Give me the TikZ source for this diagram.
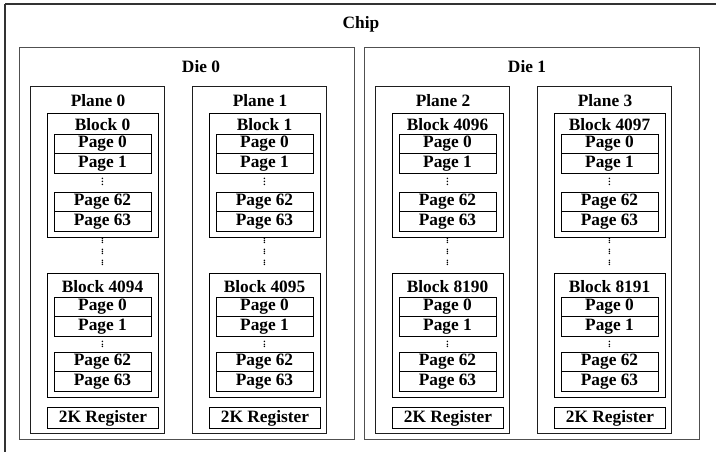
\documentclass[tikz,border=0pt]{standalone}
\usepackage{fontspec}
\setmainfont{Liberation Serif}
\newcommand{\dotcol}[1]{\vbox{\baselineskip#1\lineskiplimit0pt\hbox{.}\hbox{.}\hbox{.}}}
\tikzset{every picture/.style={line width=0.75pt}}
\tikzset{
  pagebox/.style={draw, anchor=north west, minimum width=72.75pt, minimum height=14.625pt, inner sep=0pt, outer sep=0pt},
  blockbox/.style={draw, anchor=north west, minimum width=83.25pt, minimum height=93pt, inner sep=0pt},
  regbox/.style={draw, anchor=north west, minimum width=83.25pt, minimum height=15.75pt, inner sep=0pt},
  planebox/.style={draw={rgb, 255:red, 30; green, 30; blue, 30}, anchor=north west, minimum width=100.5pt, minimum height=260.25pt, inner sep=0pt},
  diebox/.style={draw={rgb, 255:red, 80; green, 80; blue, 80}, anchor=north west, minimum width=251.25pt, minimum height=294pt, inner sep=0pt},
  chipline/.style={draw={rgb, 255:red, 50; green, 50; blue, 50}, line width=1.3pt},
  title/.style={inner sep=0.75pt},
  dotmark/.style={inner sep=0pt, font=\fontsize{10}{10}\selectfont},
}

\begin{document}
\begin{tikzpicture}[x=0.75pt,y=0.75pt,yscale=-1,xscale=1,font=\fontsize{13}{15}\selectfont\bfseries]
\useasboundingbox (0,0) rectangle (716,451);

%Shape: Chip (right and bottom sides run off the picture)
\draw [chipline] (5,4) -- (740,4) (5,4) -- (5,475);
% Text Node
\node (chipt) [title] at (361,24) {Chip};

%Shape: Die 0
\node (die0) [diebox] at (19,47) {};
\node (die0t) [title] at (201,67) {Die 0};
%Shape: Die 1
\node (die1) [diebox] at (364,47) {};
\node (die1t) [title] at (527,67) {Die 1};

%Shape: Plane 0
\node (p0) [planebox] at (30,86) {};
\node (p0t) [title] at (98,101) {Plane 0};
\node (p0b0) [blockbox] at (47,113) {};
\node (p0b0t) [title] at (102.5,125) {Block 0};
\node (p0b0g0) [pagebox] at (54,134) {Page 0};
\node (p0b0g1) [pagebox] at (54,153.5) {Page 1};
\node (p0b0d) [dotmark] at (102.5,182) {\dotcol{2.1pt}};
\node (p0b0g62) [pagebox] at (54,192) {Page 62};
\node (p0b0g63) [pagebox] at (54,211.5) {Page 63};
\node (p0d1) [dotmark] at (102.5,241) {\dotcol{1.7pt}};
\node (p0d2) [dotmark] at (102.5,252) {\dotcol{1.7pt}};
\node (p0d3) [dotmark] at (102.5,263) {\dotcol{1.7pt}};
\node (p0b1) [blockbox] at (47,273) {};
\node (p0b1t) [title] at (102.5,287) {Block 4094};
\node (p0b1g0) [pagebox] at (54,297) {Page 0};
\node (p0b1g1) [pagebox] at (54,316.5) {Page 1};
\node (p0b1d) [dotmark] at (102.5,344.5) {\dotcol{2.1pt}};
\node (p0b1g62) [pagebox] at (54,352) {Page 62};
\node (p0b1g63) [pagebox] at (54,371.5) {Page 63};
\node (p0r) [regbox] at (47,407) {2K Register};

%Shape: Plane 1
\node (p1) [planebox] at (192,86) {};
\node (p1t) [title] at (260,101) {Plane 1};
\node (p1b0) [blockbox] at (209,113) {};
\node (p1b0t) [title] at (264.5,125) {Block 1};
\node (p1b0g0) [pagebox] at (216,134) {Page 0};
\node (p1b0g1) [pagebox] at (216,153.5) {Page 1};
\node (p1b0d) [dotmark] at (264.5,182) {\dotcol{2.1pt}};
\node (p1b0g62) [pagebox] at (216,192) {Page 62};
\node (p1b0g63) [pagebox] at (216,211.5) {Page 63};
\node (p1d1) [dotmark] at (264.5,241) {\dotcol{1.7pt}};
\node (p1d2) [dotmark] at (264.5,252) {\dotcol{1.7pt}};
\node (p1d3) [dotmark] at (264.5,263) {\dotcol{1.7pt}};
\node (p1b1) [blockbox] at (209,273) {};
\node (p1b1t) [title] at (264.5,287) {Block 4095};
\node (p1b1g0) [pagebox] at (216,297) {Page 0};
\node (p1b1g1) [pagebox] at (216,316.5) {Page 1};
\node (p1b1d) [dotmark] at (264.5,344.5) {\dotcol{2.1pt}};
\node (p1b1g62) [pagebox] at (216,352) {Page 62};
\node (p1b1g63) [pagebox] at (216,371.5) {Page 63};
\node (p1r) [regbox] at (209,407) {2K Register};

%Shape: Plane 2
\node (p2) [planebox] at (375,86) {};
\node (p2t) [title] at (443,101) {Plane 2};
\node (p2b0) [blockbox] at (392,113) {};
\node (p2b0t) [title] at (447.5,125) {Block 4096};
\node (p2b0g0) [pagebox] at (399,134) {Page 0};
\node (p2b0g1) [pagebox] at (399,153.5) {Page 1};
\node (p2b0d) [dotmark] at (447.5,182) {\dotcol{2.1pt}};
\node (p2b0g62) [pagebox] at (399,192) {Page 62};
\node (p2b0g63) [pagebox] at (399,211.5) {Page 63};
\node (p2d1) [dotmark] at (447.5,241) {\dotcol{1.7pt}};
\node (p2d2) [dotmark] at (447.5,252) {\dotcol{1.7pt}};
\node (p2d3) [dotmark] at (447.5,263) {\dotcol{1.7pt}};
\node (p2b1) [blockbox] at (392,273) {};
\node (p2b1t) [title] at (447.5,287) {Block 8190};
\node (p2b1g0) [pagebox] at (399,297) {Page 0};
\node (p2b1g1) [pagebox] at (399,316.5) {Page 1};
\node (p2b1d) [dotmark] at (447.5,344.5) {\dotcol{2.1pt}};
\node (p2b1g62) [pagebox] at (399,352) {Page 62};
\node (p2b1g63) [pagebox] at (399,371.5) {Page 63};
\node (p2r) [regbox] at (392,407) {2K Register};

%Shape: Plane 3
\node (p3) [planebox] at (537,86) {};
\node (p3t) [title] at (605,101) {Plane 3};
\node (p3b0) [blockbox] at (554,113) {};
\node (p3b0t) [title] at (609.5,125) {Block 4097};
\node (p3b0g0) [pagebox] at (561,134) {Page 0};
\node (p3b0g1) [pagebox] at (561,153.5) {Page 1};
\node (p3b0d) [dotmark] at (609.5,182) {\dotcol{2.1pt}};
\node (p3b0g62) [pagebox] at (561,192) {Page 62};
\node (p3b0g63) [pagebox] at (561,211.5) {Page 63};
\node (p3d1) [dotmark] at (609.5,241) {\dotcol{1.7pt}};
\node (p3d2) [dotmark] at (609.5,252) {\dotcol{1.7pt}};
\node (p3d3) [dotmark] at (609.5,263) {\dotcol{1.7pt}};
\node (p3b1) [blockbox] at (554,273) {};
\node (p3b1t) [title] at (609.5,287) {Block 8191};
\node (p3b1g0) [pagebox] at (561,297) {Page 0};
\node (p3b1g1) [pagebox] at (561,316.5) {Page 1};
\node (p3b1d) [dotmark] at (609.5,344.5) {\dotcol{2.1pt}};
\node (p3b1g62) [pagebox] at (561,352) {Page 62};
\node (p3b1g63) [pagebox] at (561,371.5) {Page 63};
\node (p3r) [regbox] at (554,407) {2K Register};

\end{tikzpicture}
\end{document}
